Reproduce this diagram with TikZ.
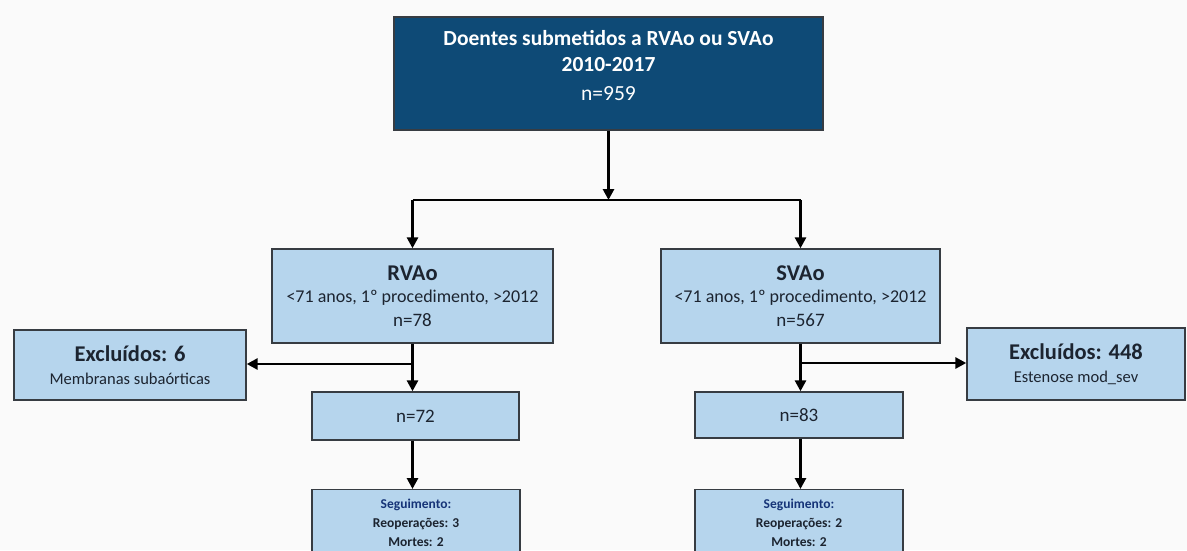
\documentclass[tikz,border=0pt]{standalone}
\usepackage{fontspec}
\setmainfont{Carlito}
\usetikzlibrary{positioning,arrows.meta}

\definecolor{topblue}{RGB}{14,74,118}
\definecolor{boxblue}{RGB}{182,213,237}
\definecolor{boxline}{RGB}{55,60,66}
\definecolor{inktext}{RGB}{28,36,48}
\definecolor{segblue}{RGB}{22,52,120}
\definecolor{paper}{RGB}{250,250,250}

\begin{document}
\begin{tikzpicture}[
    x=1pt, y=-1pt,
    font=\fontsize{18}{21}\selectfont,
    box/.style={rectangle, draw=boxline, line width=1.4pt, fill=boxblue,
        text=inktext, align=center, inner sep=0pt},
    headbox/.style={box, fill=topblue, text=white},
    segbox/.style={box, minimum width=208pt, minimum height=80pt, anchor=north,
        font=\fontsize{13.5}{19}\selectfont\bfseries},
    arr/.style={line width=2.8pt, -{Triangle[length=11pt,width=11pt]}},
    link/.style={line width=2.8pt},
]

% page and background
\fill[paper] (0,0) rectangle (1187,550);
\useasboundingbox (0,0) rectangle (1187,550);
\clip (0,0) rectangle (1187,550);

\node[headbox, minimum width=429pt, minimum height=113pt,
      font=\fontsize{21.5}{25}\selectfont] (top) at (608.5,73.5)
    {\bfseries Doentes submetidos a RVAo ou SVAo\\[1pt]
     \bfseries 2010-2017\\[4pt]
     n=959\rule[-16pt]{0pt}{16pt}};

\node[box, minimum width=281pt, minimum height=94pt] (rv) at (412.5,296)
    {{\bfseries\fontsize{22.5}{25}\selectfont RVAo}\\[1pt]
     <71 anos, 1º procedimento, >2012\\[3pt]
     {\fontsize{19}{22}\selectfont n=78}};

\node[box, minimum width=279pt, minimum height=94pt] (sv) at (800.5,296)
    {{\bfseries\fontsize{22.5}{25}\selectfont SVAo}\\[1pt]
     <71 anos, 1º procedimento, >2012\\[3pt]
     {\fontsize{19}{22}\selectfont n=567}};

\node[box, minimum width=232pt, minimum height=70pt] (exl) at (130,365)
    {{\bfseries\fontsize{22.5}{25}\selectfont Excluídos: 6}\\[2pt]
     {\fontsize{16.5}{19}\selectfont Membranas subaórticas}};

\node[box, minimum width=218pt, minimum height=72pt] (exr) at (1076,364)
    {{\bfseries\fontsize{22.5}{25}\selectfont Excluídos: 448}\\[2pt]
     {\fontsize{16.5}{19}\selectfont Estenose mod\_sev}};

\node[box, minimum width=207pt, minimum height=48pt,
      font=\fontsize{19}{22}\selectfont] (nl) at (415.5,416) {n=72};
\node[box, minimum width=208pt, minimum height=46pt,
      font=\fontsize{19}{22}\selectfont] (nr) at (799,415) {n=83};

\node[segbox] (segl) at (416,489)
    {\textcolor{segblue}{Seguimento:}\\Reoperações: 3\\Mortes: 2\rule[-14pt]{0pt}{14pt}};
\node[segbox] (segr) at (799,489)
    {\textcolor{segblue}{Seguimento:}\\Reoperações: 2\\Mortes: 2\rule[-14pt]{0pt}{14pt}};

% connectors
\coordinate (fork) at (top.south |- 0,200);
\coordinate (forkl) at (rv.north |- fork);
\coordinate (forkr) at (sv.north |- fork);
\draw[arr] (top.south) -- (fork);
\draw[link] (forkl) -- (forkr);
\draw[arr] (forkl) -- (rv.north);
\draw[arr] (forkr) -- (sv.north);

\coordinate (brl) at (rv.south |- 0,364);
\coordinate (brr) at (sv.south |- 0,363);
\draw[arr] (rv.south) -- (rv.south |- nl.north);
\draw[arr] (brl) -- (brl -| exl.east);
\draw[arr] (sv.south) -- (sv.south |- nr.north);
\draw[arr] (brr) -- (brr -| exr.west);

\draw[arr] (nl.south -| rv.south) -- (rv.south |- segl.north);
\draw[arr] (nr.south -| sv.south) -- (sv.south |- segr.north);

\end{tikzpicture}
\end{document}
